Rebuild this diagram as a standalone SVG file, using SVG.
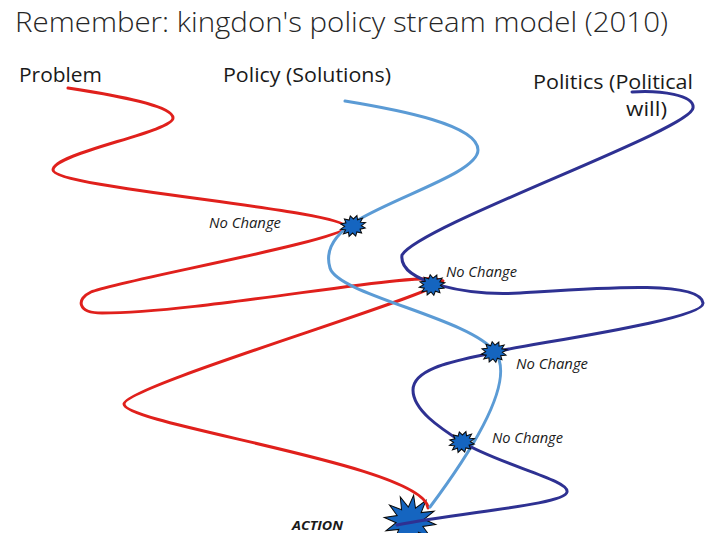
<svg xmlns="http://www.w3.org/2000/svg" xmlns:xlink="http://www.w3.org/1999/xlink" width="705" height="533" viewBox="0 0 705 533">
  <style>
    .title { font-family: "Open Sans", "Liberation Sans", sans-serif; font-weight: 300; font-size: 28px; fill: #262626; }
    .head { font-family: "Open Sans", "Liberation Sans", sans-serif; font-size: 20px; fill: #1a1a1a; }
    .note { font-family: "Open Sans", "Liberation Sans", sans-serif; font-style: italic; font-size: 14.5px; fill: #1a1a1a; }
    .action { font-family: "Open Sans", "Liberation Sans", sans-serif; font-style: italic; font-weight: 700; font-size: 13px; fill: #1a1a1a; }
    .stream { fill: none; stroke-width: 3; stroke-linecap: round; stroke-linejoin: round; }
    .problem { stroke: #e0201c; }
    .policy { stroke: #5b9bd5; }
    .politics { stroke: #2e3192; }
    .burst { fill: #1565c0; stroke: #0a0a0a; stroke-width: 1; stroke-linejoin: miter; }
  </style>
  <defs>
    <!-- small 12-point starburst marking a stream crossing -->
    <polygon id="burst-small" points="13,0 8.2,1.8 11.3,5.2 6,4.9 6.5,9 2.2,6.7 0,10.5 -2.2,6.7 -6.5,9 -6,4.9 -11.3,5.2 -8.2,1.8 -13,0 -8.2,-1.8 -11.3,-5.2 -6,-4.9 -6.5,-9 -2.2,-6.7 0,-10.5 2.2,-6.7 6.5,-9 6,-4.9 11.3,-5.2 8.2,-1.8"/>
    <!-- large starburst where all three streams meet -->
    <polygon id="burst-large" points="26,0 13.52,3.62 22.52,13 9.9,9.9 13,22.52 3.62,13.52 0,26 -3.62,13.52 -13,22.52 -9.9,9.9 -22.52,13 -13.52,3.62 -26,0 -13.52,-3.62 -22.52,-13 -9.9,-9.9 -13,-22.52 -3.62,-13.52 0,-26 3.62,-13.52 13,-22.52 9.9,-9.9 22.52,-13 13.52,-3.62"/>
  </defs>

  <rect width="705" height="533" fill="#ffffff"/>

  <text class="title" x="15" y="32" textLength="653" lengthAdjust="spacingAndGlyphs">Remember: kingdon's policy stream model (2010)</text>

  <g id="labels">
    <text class="head" x="19" y="82" textLength="83" lengthAdjust="spacingAndGlyphs">Problem</text>
    <text class="head" x="223" y="82" textLength="168" lengthAdjust="spacingAndGlyphs">Policy (Solutions)</text>
    <text class="head" x="533" y="89" textLength="160" lengthAdjust="spacingAndGlyphs">Politics (Political</text>
    <text class="head" x="626" y="116" textLength="41" lengthAdjust="spacingAndGlyphs">will)</text>
  </g>

  <!-- meeting point of the three streams -->
  <g id="action">
    <use xlink:href="#burst-large" class="burst" transform="translate(410,521) rotate(8)"/>
    <text class="action" x="292" y="530" textLength="51" lengthAdjust="spacingAndGlyphs">ACTION</text>
  </g>

  <g id="streams">
    <path id="problem-stream" class="stream problem" d="M68,88 C120,96 173,106 173,118 C173,132 53,153 53,170 C53,188 345,210 346,227 C346,240 116,281 91,292 C76,299 77,313 102,313 C205,313 428,268 443,281 C443,293 124,386 124,404 C124,425 425,465 428,508"/>
    <path id="policy-stream" class="stream policy" d="M345,101 C400,110 478,125 478,150 C478,172 400,195 358,220 C338,232 324,248 330,268 C338,295 470,318 495,352 C515,378 480,440 430,507"/>
    <path id="politics-stream" class="stream politics" d="M632,92 C660,90 695,95 693,108 C691,130 420,225 402,255 C398,283 470,296 520,293 C600,288 700,280 703,303 C705,320 520,345 495,352 C470,359 413,365 413,390 C413,410 440,428 462,442 C500,465 570,480 567,492 C565,505 460,512 397,525"/>
  </g>

  <g id="crossing-1">
    <use xlink:href="#burst-small" class="burst" transform="translate(353,226) rotate(-15)"/>
    <text class="note" x="209" y="228" textLength="72" lengthAdjust="spacingAndGlyphs">No Change</text>
  </g>
  <g id="crossing-2">
    <use xlink:href="#burst-small" class="burst" transform="translate(432,285) rotate(-10)"/>
    <text class="note" x="446" y="277" textLength="71" lengthAdjust="spacingAndGlyphs">No Change</text>
  </g>
  <g id="crossing-3">
    <use xlink:href="#burst-small" class="burst" transform="translate(494,352) rotate(-10)"/>
    <text class="note" x="516" y="369" textLength="72" lengthAdjust="spacingAndGlyphs">No Change</text>
  </g>
  <g id="crossing-4">
    <use xlink:href="#burst-small" class="burst" transform="translate(462,442) rotate(-15)"/>
    <text class="note" x="492" y="443" textLength="71" lengthAdjust="spacingAndGlyphs">No Change</text>
  </g>
</svg>
